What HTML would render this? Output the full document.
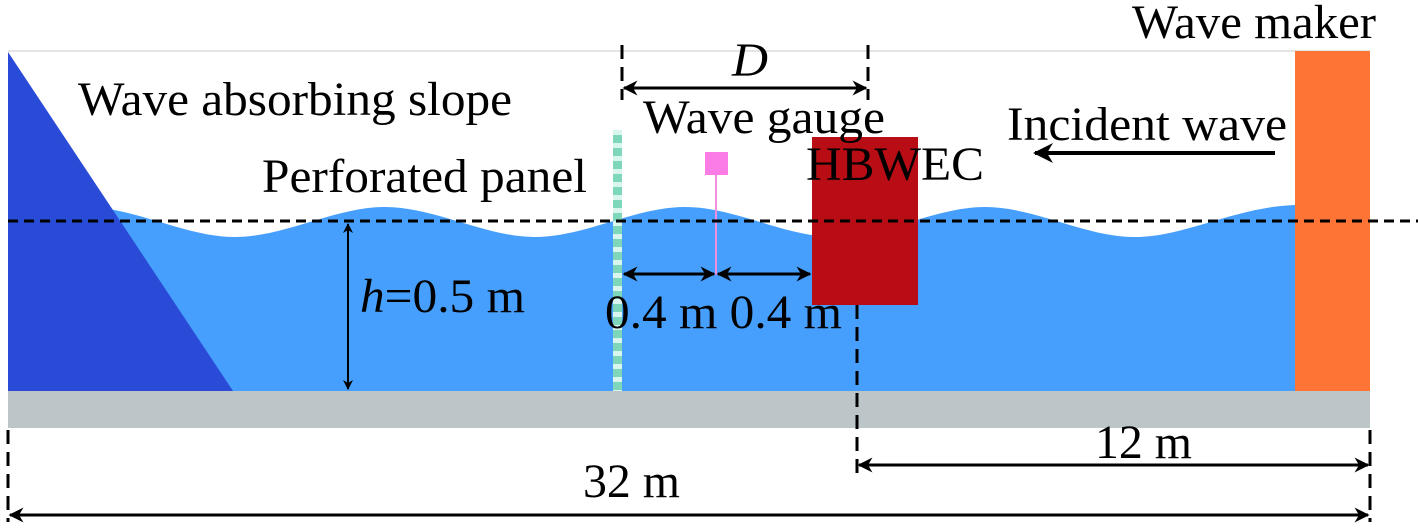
<!DOCTYPE html>
<html><head><meta charset="utf-8"><style>html,body{margin:0;padding:0;background:#fff}svg{display:block}text{font-family:"Liberation Serif","Times New Roman",serif;font-size:48px}</style></head>
<body>
<svg width="1418" height="531" viewBox="0 0 1418 531" xmlns="http://www.w3.org/2000/svg">
<defs>
<marker id="a" viewBox="0 0 10 10" refX="9" refY="5" markerWidth="5" markerHeight="5" orient="auto-start-reverse"><path d="M0,0 L10,5 L0,10 L3,5 z" fill="#000"/></marker>
</defs>
<line x1="8" y1="51" x2="1370" y2="51" stroke="#e4e4e4" stroke-width="2"/>
<path d="M8,221 C60,215 80,207 85,207 C135,207 185,237 235,237 C285,237 335,207 385,207 C435,207 485,237 535,237 C585,237 635,207 685,207 C735,207 785,237 835,237 C885,237 935,207 985,207 C1035,207 1085,237 1135,237 C1185,237 1235,207 1295,205 L1295,391 L8,391 z" fill="#469ffc"/>
<path d="M8,52 L233,391 L8,391 z" fill="#2a4bd7"/>
<rect x="8" y="391" width="1362" height="37" fill="#bcc5c7"/>
<rect x="1295" y="51" width="75" height="340" fill="#fd7434"/>
<rect x="613" y="130" width="9" height="261" fill="#7fd7bb"/>
<line x1="617.5" y1="130" x2="617.5" y2="391" stroke="#d8f6ee" stroke-width="9" stroke-dasharray="5 8"/>
<rect x="705" y="152" width="23" height="23" fill="#fc7ce6"/>
<line x1="716" y1="175" x2="716" y2="275" stroke="#f08fe0" stroke-width="2"/>
<rect x="812" y="137" width="106" height="168" fill="#b80d15"/>
<line x1="8" y1="221" x2="1418" y2="221" stroke="#000" stroke-width="3" stroke-dasharray="10 6"/>
<g stroke="#000" stroke-width="3" stroke-dasharray="14 8">
<line x1="622" y1="45" x2="622" y2="100"/>
<line x1="868" y1="45" x2="868" y2="100"/>
<line x1="857" y1="305" x2="857" y2="478"/>
<line x1="8" y1="430" x2="8" y2="522"/>
<line x1="1370" y1="430" x2="1370" y2="522"/>
</g>
<g stroke="#000" stroke-width="3" fill="none">
<line x1="624" y1="88" x2="866" y2="88" marker-start="url(#a)" marker-end="url(#a)"/>
<line x1="624" y1="274" x2="714" y2="274" marker-start="url(#a)" marker-end="url(#a)"/>
<line x1="718" y1="274" x2="810" y2="274" marker-start="url(#a)" marker-end="url(#a)"/>
<line x1="859" y1="465" x2="1368" y2="465" marker-start="url(#a)" marker-end="url(#a)"/>
<line x1="10" y1="515" x2="1368" y2="515" marker-start="url(#a)" marker-end="url(#a)"/>
<line x1="1275" y1="153" x2="1035" y2="153" marker-end="url(#a)" stroke-width="4"/>
</g>
<line x1="348" y1="224" x2="348" y2="389" stroke="#000" stroke-width="2" marker-start="url(#a)" marker-end="url(#a)"/>
<g fill="#000">
<text x="1132" y="38" textLength="244" lengthAdjust="spacingAndGlyphs">Wave maker</text>
<text x="78" y="115" textLength="434" lengthAdjust="spacingAndGlyphs">Wave absorbing slope</text>
<text x="262" y="192" textLength="325" lengthAdjust="spacingAndGlyphs">Perforated panel</text>
<text x="643" y="133" textLength="242" lengthAdjust="spacingAndGlyphs">Wave gauge</text>
<text x="806" y="180" textLength="178" lengthAdjust="spacingAndGlyphs">HBWEC</text>
<text x="1007" y="140" textLength="280" lengthAdjust="spacingAndGlyphs">Incident wave</text>
<text x="360" y="312" textLength="165" lengthAdjust="spacingAndGlyphs"><tspan font-style="italic">h</tspan>=0.5 m</text>
<text x="605" y="328" textLength="237" lengthAdjust="spacingAndGlyphs">0.4 m 0.4 m</text>
<text x="732" y="76" font-style="italic" textLength="36" lengthAdjust="spacingAndGlyphs">D</text>
<text x="1095" y="458" textLength="97" lengthAdjust="spacingAndGlyphs">12 m</text>
<text x="583" y="497" textLength="97" lengthAdjust="spacingAndGlyphs">32 m</text>
</g>
</svg>
</body></html>
